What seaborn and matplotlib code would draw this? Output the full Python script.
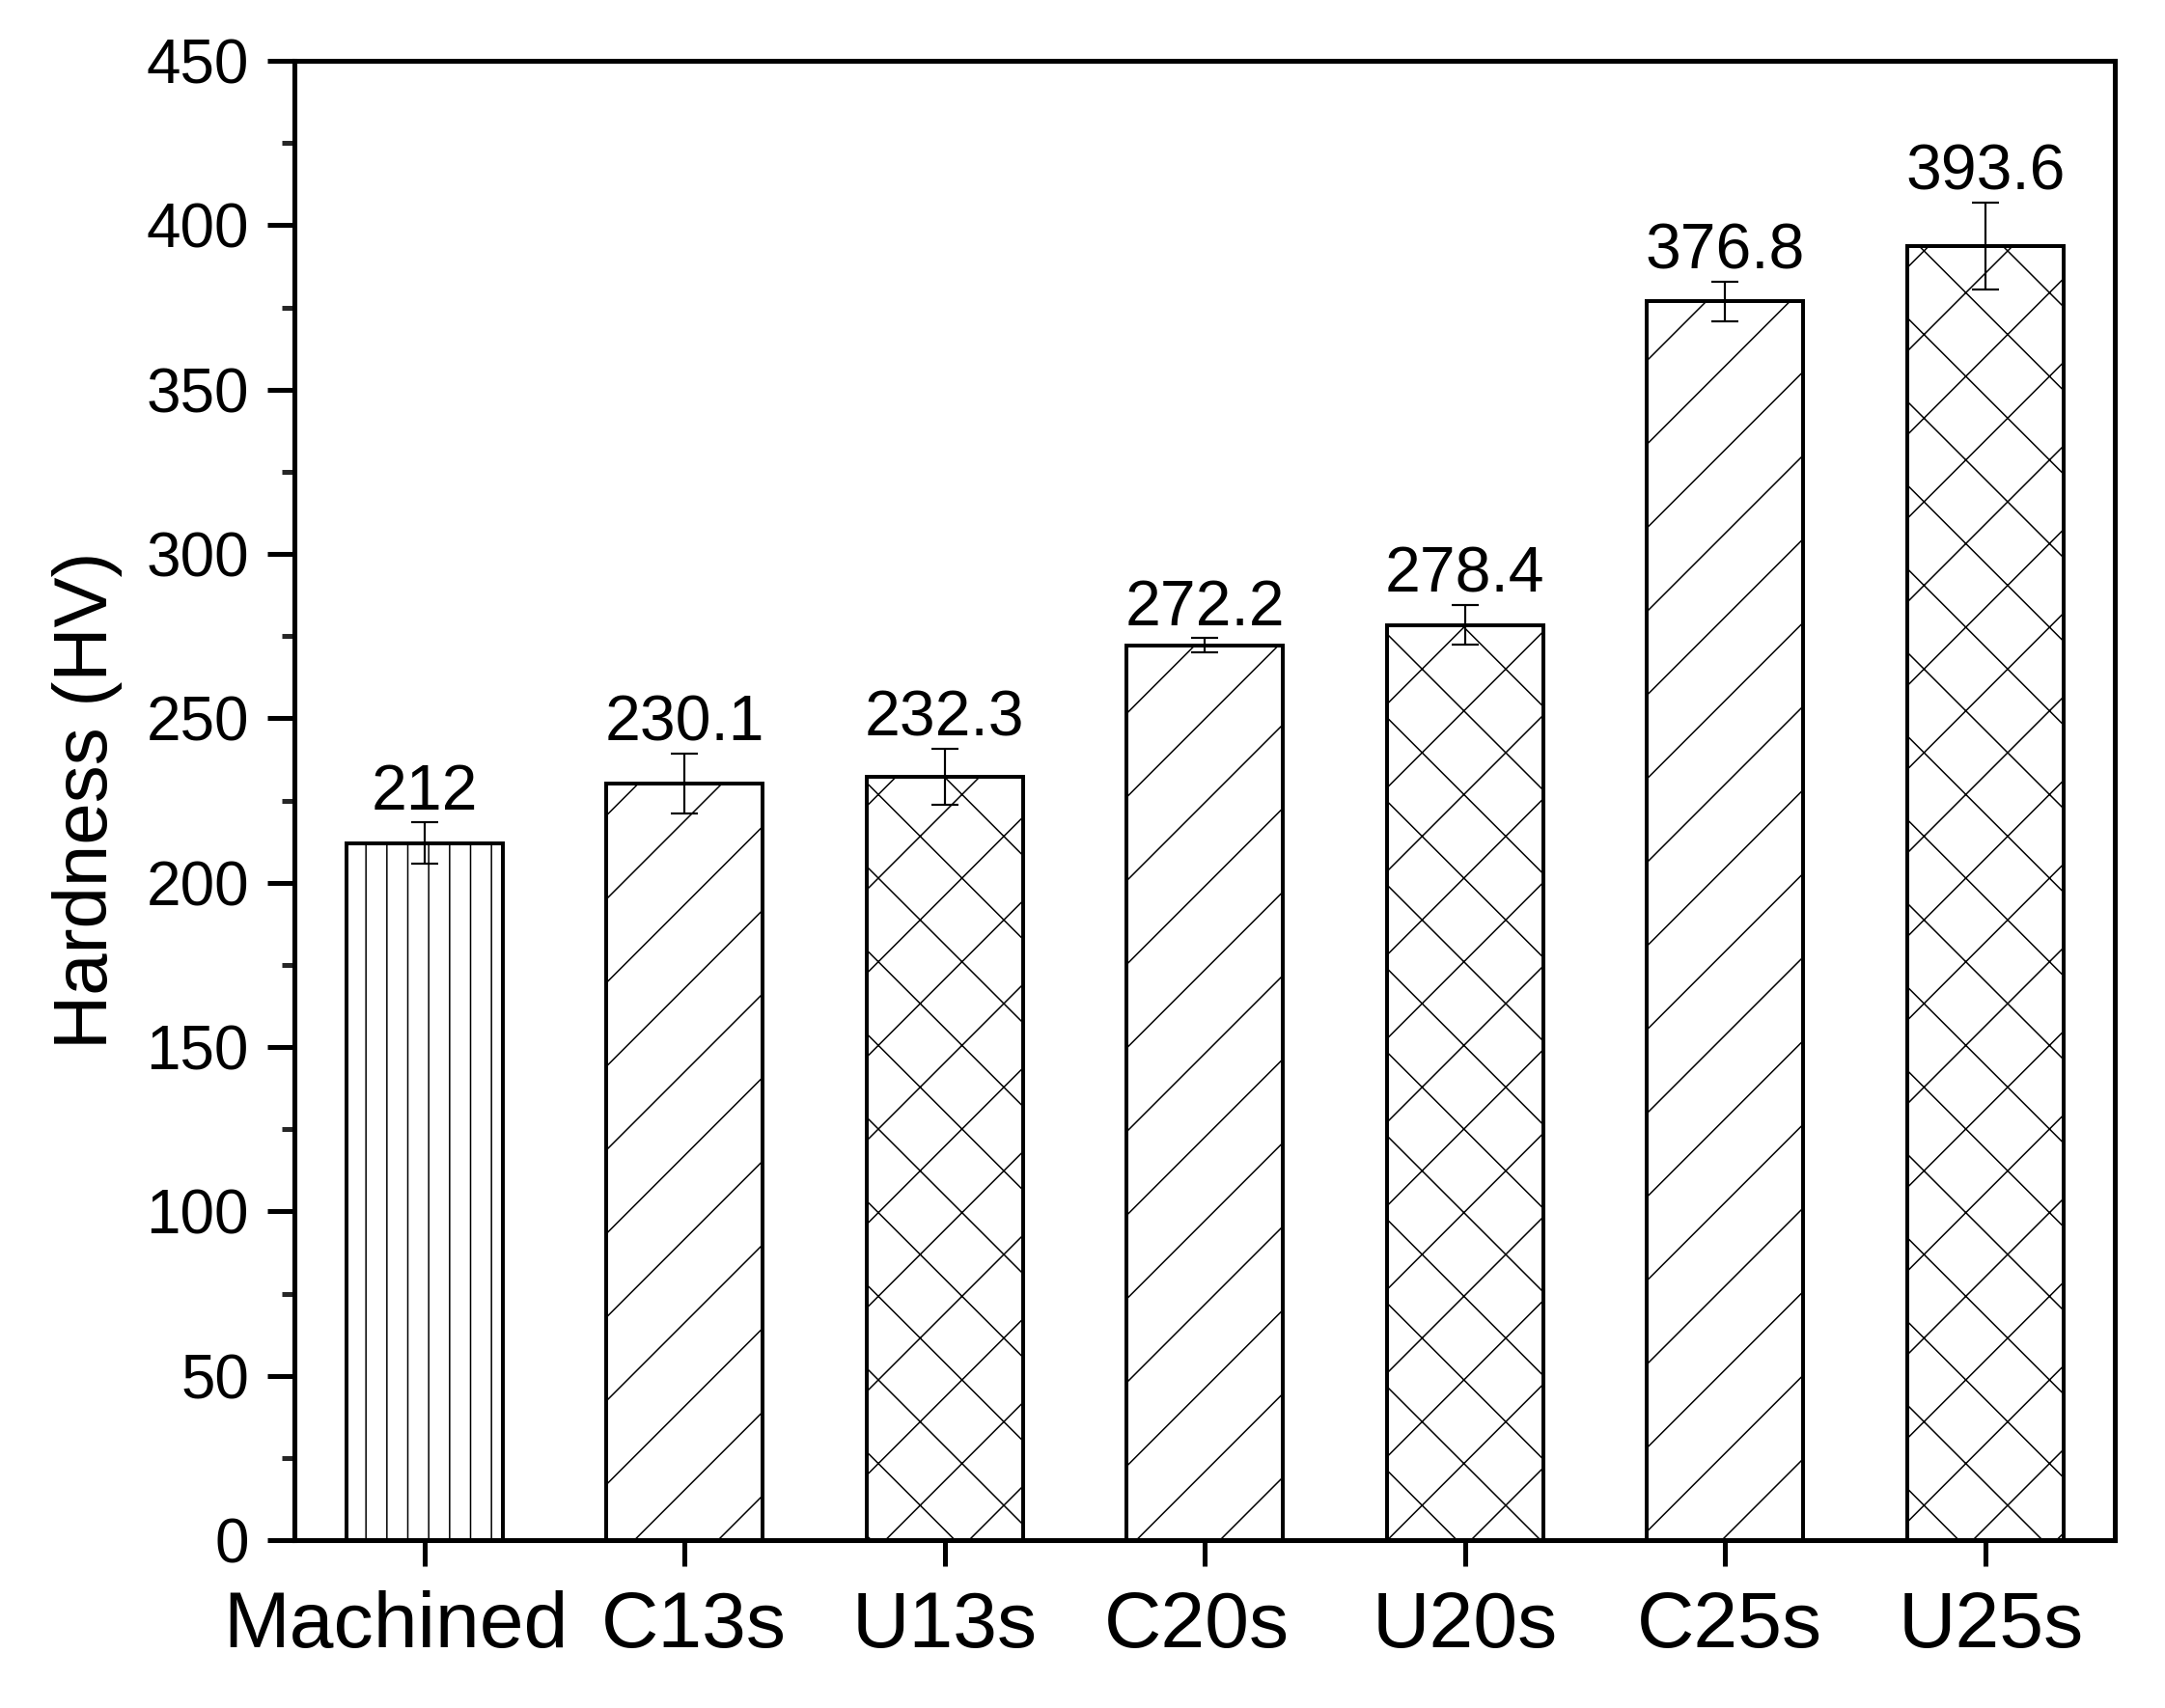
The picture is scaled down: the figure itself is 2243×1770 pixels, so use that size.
import numpy as np
import pandas as pd
import matplotlib
matplotlib.use("Agg")
import matplotlib.pyplot as plt
import matplotlib.transforms as mtransforms
from matplotlib.ticker import MultipleLocator
import seaborn as sns

# values
samples = ["Machined", "C13s", "U13s", "C20s", "U20s", "C25s", "U25s"]
hardness = [212.0, 230.1, 232.3, 272.2, 278.4, 376.8, 393.6]
hardness_err = [6.3, 9.0, 8.5, 2.2, 6.0, 6.0, 13.3]
value_labels = ["212", "230.1", "232.3", "272.2", "278.4", "376.8", "393.6"]
hatches = ["||", "/", "x", "/", "x", "/", "x"]

df = pd.DataFrame({"sample": samples, "hardness": hardness})

sns.set_theme(style="ticks")
plt.rcParams["font.family"] = ["Liberation Sans", "DejaVu Sans"]
plt.rcParams["hatch.linewidth"] = 0.42
plt.rcParams["hatch.color"] = "black"

DPI = 260
fig = plt.figure(figsize=(2243 / DPI, 1770 / DPI), dpi=DPI)
ax = fig.add_axes([0.136, 0.0983, 0.841, 0.8661])

sns.barplot(data=df, x="sample", y="hardness", color="white", edgecolor="black",
            linewidth=1.1, width=0.6, errorbar=None, saturation=1, ax=ax)

for patch, h in zip(ax.patches, hatches):
    patch.set_hatch(h)
    patch.set_facecolor("white")
    patch.set_edgecolor("black")

xpos = np.arange(len(samples))
ax.errorbar(xpos, hardness, yerr=hardness_err, fmt="none", ecolor="black",
            elinewidth=0.6, capsize=3.9, capthick=0.6, zorder=5)

for i, (v, e, lab) in enumerate(zip(hardness, hardness_err, value_labels)):
    ax.text(i, v + e + 4, lab, ha="center", va="baseline", fontsize=18.3, color="black")

ax.set_xlim(-0.5, 6.5)
ax.set_ylim(0, 450)
ax.yaxis.set_major_locator(MultipleLocator(50))
ax.yaxis.set_minor_locator(MultipleLocator(25))

for side in ["left", "right", "top", "bottom"]:
    ax.spines[side].set_visible(True)
    ax.spines[side].set_linewidth(1.4)
    ax.spines[side].set_color("black")

ax.tick_params(axis="y", which="major", direction="out", length=7.75, width=1.4,
               labelsize=17.7, pad=5.3, colors="black", right=False)
ax.tick_params(axis="y", which="minor", direction="out", length=3.6, width=1.4,
               left=True, right=False)
ax.tick_params(axis="x", which="major", direction="out", length=7.5, width=1.4,
               labelsize=22.8, pad=7, colors="black", top=False)

# the long first label sits a bit left of its tick in the original
label_shift_px = [-30, 10, 0, -8, 0, 5, 6]
for lbl, dx in zip(ax.get_xticklabels(), label_shift_px):
    lbl.set_transform(lbl.get_transform() +
                      mtransforms.ScaledTranslation(dx / DPI, 0, fig.dpi_scale_trans))

ax.set_xlabel("")
ax.set_ylabel("Hardness (HV)", fontsize=21.6, labelpad=6.6, color="black")

fig.savefig("out.png", dpi=DPI, facecolor="white")
plt.close(fig)
